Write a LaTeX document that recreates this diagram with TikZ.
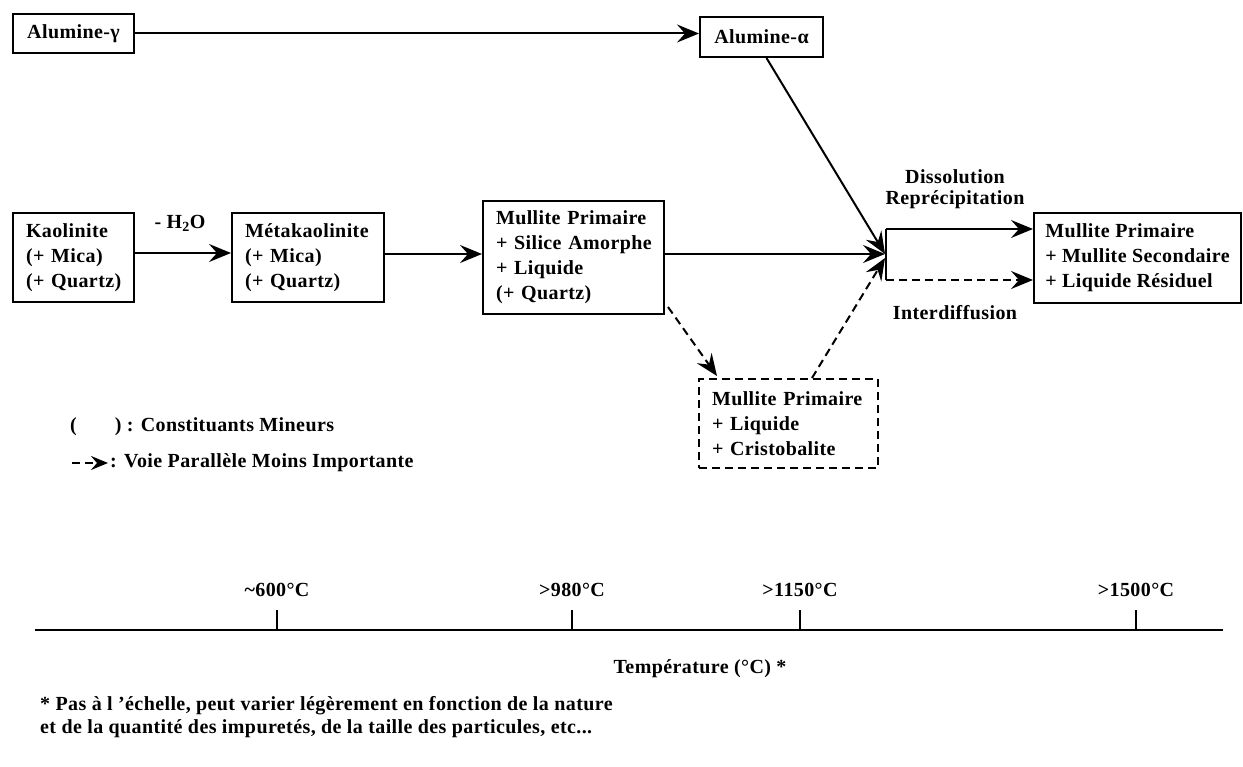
\documentclass[tikz,border=0pt]{standalone}
\usepackage{fontspec}
\setmainfont{Liberation Serif}[LetterSpace=2]
\usetikzlibrary{arrows.meta}
\tikzset{
  base/.style={font=\bfseries\fontsize{20}{25}\selectfont, inner sep=0pt},
  box/.style={base, draw, line width=2pt, anchor=north west, align=left, inner xsep=13pt, inner ysep=0pt},
  dbox/.style={box, dash pattern=on 8pt off 5pt},
  lbl/.style={base},
  conn/.style={line width=2pt, -{Stealth[length=22pt,width=18pt,inset=8pt]}},
  dconn/.style={conn, dash pattern=on 8pt off 5pt},
  seg/.style={line width=2pt},
}
\begin{document}
\begin{tikzpicture}[x=1pt,y=-1pt]
\useasboundingbox[fill=white] (0,0) rectangle (1243,767);
% boxes
\node[box, text width=95pt, minimum height=39pt, align=center] (ag) at (12,13) {Alumine-γ};
\node[box, text width=97pt, minimum height=40pt, align=center] (aa) at (699,16) {Alumine-α};
\node[box, text width=95pt, minimum height=89pt] (kao) at (12,212) {Kaolinite\\(+ Mica)\\(+ Quartz)};
\node[box, text width=126pt, minimum height=89pt] (meta) at (231,212) {Métakaolinite\\(+ Mica)\\(+ Quartz)};
\node[box, text width=155pt, minimum height=113pt] (mp) at (482,200) {Mullite Primaire\\+ Silice Amorphe\\+ Liquide\\(+ Quartz)};
\node[dbox, text width=153pt, minimum height=89pt] (cr) at (698,378) {Mullite Primaire\\+ Liquide\\+ Cristobalite};
\node[box, inner xsep=0pt, minimum width=207pt, minimum height=90pt] (fin) at (1033,212) {Mullite Primaire\\+ Mullite Secondaire\\+ Liquide Résiduel};
% junction
\coordinate (J) at (885,254);
\coordinate (Jt) at (886,229);
\coordinate (Jb) at (886,280);
% connectors
\draw[conn] (ag.east) -- (ag.east -| aa.west);
\draw[conn] ([xshift=5pt]aa.south) -- (J);
\draw[conn] (kao.east |- 0,253) -- (meta.west |- 0,253);
\draw[conn] (meta.east |- 0,254) -- (mp.west |- 0,254);
\draw[conn] (mp.east |- J) -- (J);
\draw[dconn] ([xshift=3pt,yshift=8pt]mp.south east) -- ([xshift=19pt,yshift=2pt]cr.north west);
\draw[dconn] ([xshift=114pt]cr.north west) -- ([yshift=-4pt]J);
\draw[seg] (Jt) -- (Jb);
\draw[conn] (Jt) -- (fin.west |- Jt);
\draw[dconn] (Jb) -- (fin.west |- Jb);
% labels
\node[lbl] (h2o) at (180,223) {- H\textsubscript{2}O};
\node[lbl] (dis) at (955,177) {Dissolution};
\node[lbl] (rep) at (955,200) {Reprécipitation};
\node[lbl] (idf) at (955,313) {Interdiffusion};
% legend
\node[lbl, anchor=west] (leg1) at (70,427) {(\hspace{38pt}) : Constituants Mineurs};
\coordinate (l2a) at (72,463);
\coordinate (l2b) at (108,463);
\draw[line width=2pt, dash pattern=on 8pt off 5pt, -{Stealth[length=17pt,width=14pt,inset=6pt]}] (l2a) -- (l2b);
\node[lbl, anchor=west] (leg2) at (110,463) {: Voie Parallèle Moins Importante};
% timeline
\coordinate (ax0) at (35,630);
\coordinate (ax1) at (1223,630);
\draw[line width=2.6pt] (ax0) -- (ax1);
\coordinate (t1) at (277,630);
\coordinate (t2) at (572,630);
\coordinate (t3) at (800,630);
\coordinate (t4) at (1136,630);
\foreach \t in {t1,t2,t3,t4} \draw[line width=1.4pt] (\t) -- ++(0,-20);
\node[lbl] (l1) at (277,590) {\textasciitilde600°C};
\node[lbl] (l2) at (572,590) {>980°C};
\node[lbl] (l3) at (800,590) {>1150°C};
\node[lbl] (l4) at (1136,590) {>1500°C};
\node[lbl] (temp) at (700,669) {Température (°C) *};
\node[lbl, anchor=north west, align=left, font=\bfseries\fontsize{20}{23}\selectfont] (foot) at (40,696) {* Pas à l 'échelle, peut varier légèrement en fonction de la nature\\et de la quantité des impuretés, de la taille des particules, etc...};
\end{tikzpicture}
\end{document}
